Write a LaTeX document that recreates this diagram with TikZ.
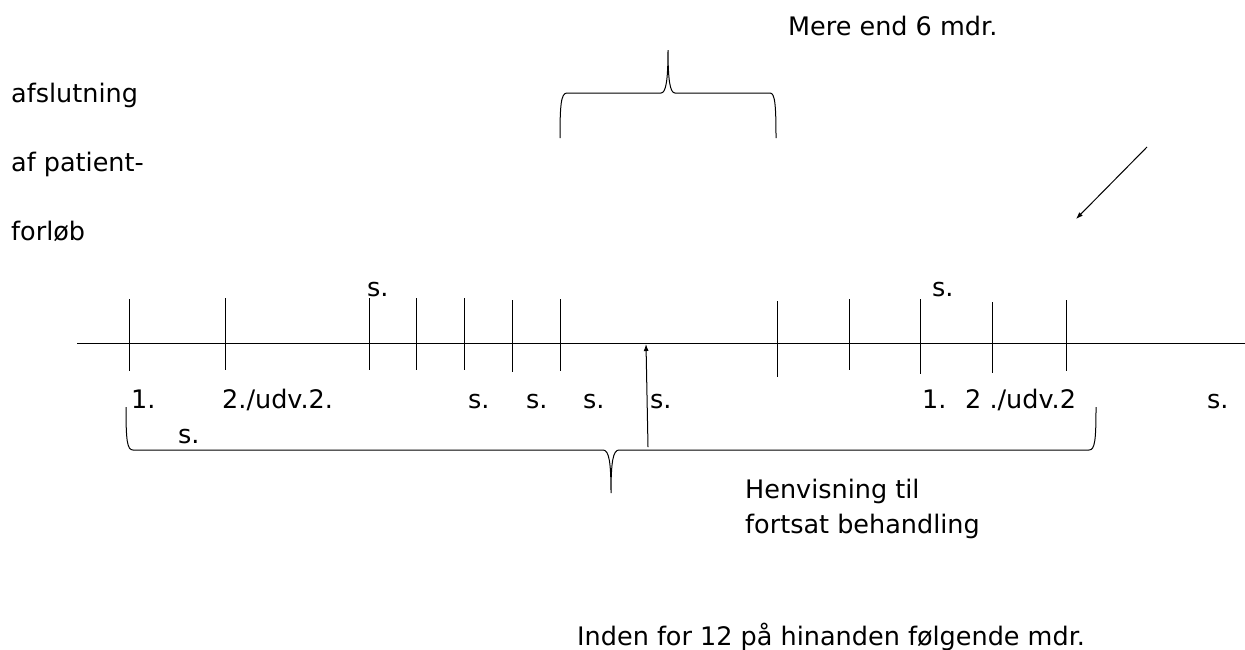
\documentclass[tikz,border=0pt]{standalone}
\usepackage{fontspec}
\setmainfont{DejaVu Sans}
\usetikzlibrary{arrows.meta}
\begin{document}
\begin{tikzpicture}[x=1pt,y=-1pt,
  lbl/.style={anchor=base west,inner sep=0pt,font=\fontsize{25.5}{31}\selectfont},
  ln/.style={line width=1pt,black},
  tick/.style={line width=1pt,black},
  arr/.style={line width=1pt,-{Latex[length=7pt,width=5pt]}}]
\useasboundingbox (0,0) rectangle (1245,649);
% labels
\node[lbl] (mere) at (788,35) {Mere end 6 mdr.};
\node[lbl] (afs1) at (11,102) {afslutning};
\node[lbl] (afs2) at (11,171) {af patient-};
\node[lbl] (afs3) at (11,240) {forløb};
\node[lbl] (stop1) at (367,296) {s.};
\node[lbl] (stop2) at (932,296) {s.};
\node[lbl] (l1) at (131,408) {1.};
\node[lbl] (l2) at (222,408) {2./udv.2.};
\node[lbl] (s1) at (178,443) {s.};
\node[lbl] (s2) at (468,408) {s.};
\node[lbl] (s3) at (526,408) {s.};
\node[lbl] (s4) at (583,408) {s.};
\node[lbl] (s5) at (650,408) {s.};
\node[lbl] (r1) at (922,408) {1.};
\node[lbl] (r2) at (965,408) {2 ./udv.2};
\node[lbl] (s6) at (1207,408) {s.};
\node[lbl] (henv1) at (745,498) {Henvisning til};
\node[lbl] (henv2) at (745,533) {fortsat behandling};
\node[lbl] (inden) at (577,645) {Inden for 12 på hinanden følgende mdr.};
% time line
\coordinate (tlA) at (77,343);
\coordinate (tlB) at (1245,343);
\draw[ln] (tlA) -- (tlB);
\foreach \x/\a/\b in {129/299/371,225/298/370,369/298/370,416/298/370,464/298/370,512/300/372,560/299/371,777/301/377,849/299/370,920/299/374,992/302/373,1066/300/371}
  \draw[tick] (\x,\a) -- (\x,\b);
% bottom brace
\draw[ln] (126,407) .. controls (126,440) and (127,450) .. (133,450) -- (603,450)
  .. controls (609,450) and (611,462) .. (611,493)
  .. controls (611,462) and (613,450) .. (619,450) -- (1089,450)
  .. controls (1095,450) and (1096,440) .. (1096,407);
% top brace
\draw[ln] (560,138) .. controls (560,105) and (561,93) .. (567,93) -- (661,93)
  .. controls (666,93) and (668,80) .. (668,50)
  .. controls (668,80) and (670,93) .. (675,93) -- (770,93)
  .. controls (775,93) and (776,105) .. (776,138);
% arrows
\coordinate (a1s) at (648,447);
\coordinate (a1e) at (646,344);
\draw[arr] (a1s) -- (a1e);
\coordinate (a2s) at (1147,147);
\coordinate (a2e) at (1076,219);
\draw[arr] (a2s) -- (a2e);
\end{tikzpicture}
\end{document}
